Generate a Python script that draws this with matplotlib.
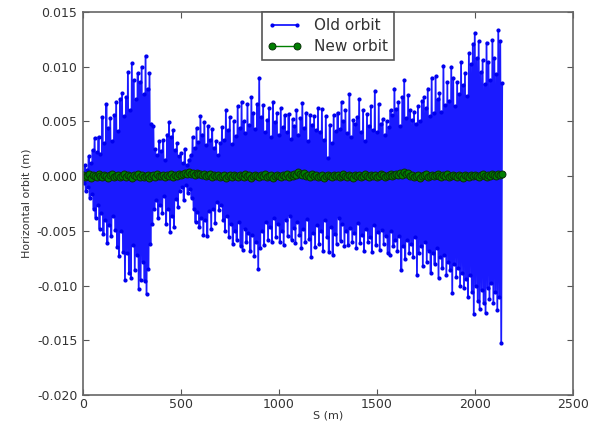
import matplotlib
matplotlib.use("Agg")
import matplotlib.pyplot as plt
import numpy as np

# old orbit, positive excursions (mm), one every 10 m starting at s = 0
old_up = [
    0.3, 1.0, 0.6, 1.8, 1.2, 2.4, 3.5, 2.2, 3.6, 2.0,
    5.4, 3.0, 6.6, 4.4, 5.3, 3.2, 5.6, 6.8, 4.1, 7.0,
    7.6, 5.5, 7.2, 9.5, 6.0, 10.3, 8.8, 7.0, 9.4, 8.6,
    10.0, 7.5, 11.0, 8.0, 9.4, 4.8, 4.6, 2.5, 1.9, 3.2,
    2.3, 3.3, 1.5, 3.8, 4.9, 3.6, 4.2, 2.4, 3.0, 1.8,
    2.1, 1.2, 2.5, 1.0, 1.5, 1.9, 3.6, 2.6, 4.4, 3.1,
    5.5, 3.8, 4.9, 2.8, 4.6, 3.3, 4.3, 2.6, 3.2, 1.9,
    3.0, 4.5, 3.3, 6.0, 4.2, 5.4, 2.9, 5.0, 3.7, 6.4,
    4.4, 6.8, 5.0, 3.9, 6.6, 4.7, 7.2, 5.8, 4.3, 6.6,
    9.0, 5.4, 6.5, 4.0, 5.1, 6.2, 3.6, 6.8, 4.9, 5.8,
    3.8, 6.2, 4.5, 5.6, 4.0, 5.7, 3.4, 5.2, 4.6, 6.0,
    3.8, 5.3, 6.7, 4.4, 5.8, 3.2, 5.6, 4.7, 5.5, 4.2,
    6.2, 4.0, 6.1, 3.3, 5.5, 1.7, 4.7, 3.0, 5.6, 4.1,
    5.8, 4.3, 6.8, 5.0, 6.0, 3.9, 7.5, 3.6, 5.1, 4.8,
    5.4, 7.0, 4.0, 6.0, 3.2, 5.7, 4.6, 6.4, 4.2, 7.8,
    4.0, 6.6, 4.8, 5.2, 3.8, 5.0, 4.5, 6.0, 5.6, 8.0,
    6.1, 6.8, 4.6, 7.2, 8.8, 5.3, 7.4, 6.0, 5.1, 5.9,
    4.8, 6.4, 5.0, 6.9, 7.2, 6.2, 8.0, 5.5, 9.0, 5.8,
    9.1, 7.0, 7.6, 5.9, 10.1, 6.5, 8.6, 6.9, 10.0, 9.0,
    6.4, 8.6, 7.5, 10.4, 8.3, 9.4, 7.3, 11.2, 10.2, 12.1,
    13.1, 10.8, 12.3, 9.5, 10.6, 8.4, 12.2, 10.4, 8.8, 12.4,
    10.8, 9.3, 13.3, 12.3, 8.5,
]

# old orbit, negative excursions (mm), one every 10 m starting at s = 5
old_down = [
    -0.6, -1.4, -1.0, -2.0, -1.6, -3.0, -3.8, -2.6, -4.8, -3.4,
    -5.3, -4.0, -6.1, -4.5, -5.5, -3.6, -4.9, -6.5, -7.3, -5.0,
    -6.9, -9.5, -7.0, -8.8, -9.3, -6.3, -8.6, -7.2, -10.3, -9.5,
    -7.8, -9.6, -10.8, -8.5, -6.2, -4.4, -3.0, -2.2, -3.8, -2.6,
    -3.4, -1.8, -4.4, -3.0, -5.1, -3.6, -4.6, -2.1, -2.8, -1.4,
    -1.0, -2.2, -0.8, -1.5, -1.2, -2.0, -3.0, -4.2, -3.3, -4.6,
    -3.8, -5.4, -4.0, -5.5, -3.2, -4.8, -3.0, -4.3, -2.4, -3.1,
    -2.6, -4.0, -5.0, -3.6, -5.6, -4.4, -6.2, -5.0, -5.8, -4.2,
    -6.4, -6.7, -4.8, -6.0, -5.2, -6.8, -5.4, -7.3, -6.0, -8.5,
    -6.6, -5.0, -6.3, -4.2, -5.8, -4.6, -6.0, -3.8, -5.6, -4.4,
    -6.0, -5.0, -6.3, -4.0, -5.5, -3.6, -5.8, -4.7, -6.1, -4.2,
    -5.4, -6.6, -4.8, -6.0, -3.9, -5.7, -7.4, -5.2, -6.5, -4.5,
    -6.2, -5.0, -6.8, -4.0, -5.6, -6.9, -4.6, -7.2, -5.3, -6.2,
    -3.8, -5.9, -4.4, -6.4, -5.0, -6.3, -4.7, -6.0, -5.2, -6.6,
    -4.3, -6.1, -5.4, -6.8, -4.8, -6.0, -5.6, -6.9, -4.5, -6.3,
    -5.1, -6.7, -4.9, -6.2, -5.5, -7.0, -7.2, -5.0, -6.4, -5.8,
    -6.8, -5.5, -8.6, -6.4, -7.6, -5.8, -7.0, -6.2, -7.4, -5.6,
    -9.0, -7.0, -6.4, -8.2, -6.0, -7.8, -6.8, -8.8, -7.0, -8.0,
    -6.6, -9.3, -7.4, -8.4, -7.2, -9.0, -7.8, -8.6, -10.7, -8.0,
    -9.2, -8.4, -10.0, -8.8, -10.2, -9.4, -11.0, -9.0, -10.6, -12.6,
    -10.0, -11.4, -12.1, -10.4, -11.6, -12.5, -10.2, -11.2, -9.8, -11.6,
    -10.6, -12.2, -11.0, -15.2,
]

# corrected orbit (mm), one every 10 m starting at s = 0
new_orbit = [
    0.1, -0.1, 0.0, 0.2, -0.2, 0.1, 0.0, -0.1, 0.2, 0.0,
    -0.1, 0.1, 0.0, -0.2, 0.1, 0.2, -0.1, 0.0, 0.1, -0.1,
    0.0, 0.2, -0.1, 0.1, 0.0, -0.2, 0.1, 0.0, 0.2, -0.1,
    0.1, -0.1, 0.0, 0.1, -0.2, 0.0, 0.1, -0.1, 0.2, 0.0,
    0.0, 0.1, -0.1, 0.1, 0.0, 0.2, -0.1, 0.1, 0.0, 0.2,
    0.1, 0.2, 0.3, 0.2, 0.4, 0.2, 0.3, 0.1, 0.3, 0.2,
    0.2, 0.1, 0.2, 0.0, 0.1, 0.2, -0.1, 0.1, 0.0, 0.1,
    -0.1, 0.0, 0.1, -0.2, 0.0, 0.1, -0.1, 0.1, 0.0, -0.1,
    0.1, 0.0, -0.1, 0.2, 0.0, 0.1, -0.2, 0.0, 0.1, 0.0,
    -0.1, 0.1, 0.0, 0.2, -0.1, 0.0, 0.1, -0.2, 0.0, 0.1,
    0.0, -0.1, 0.1, 0.0, 0.2, -0.1, 0.1, 0.0, 0.2, 0.1,
    0.4, 0.2, 0.1, 0.3, 0.0, 0.1, -0.1, 0.2, 0.0, 0.1,
    -0.1, 0.0, 0.1, -0.2, 0.0, 0.1, 0.0, -0.1, 0.1, 0.0,
    0.1, -0.1, 0.0, 0.2, 0.0, -0.1, 0.1, 0.0, -0.2, 0.1,
    0.0, 0.1, -0.1, 0.0, 0.2, 0.0, -0.1, 0.1, 0.0, 0.1,
    -0.1, 0.0, 0.2, 0.1, -0.1, 0.0, 0.1, 0.2, 0.0, 0.1,
    0.2, 0.1, 0.3, 0.1, 0.4, 0.2, 0.3, 0.0, 0.1, -0.1,
    0.0, 0.1, -0.2, 0.0, 0.1, 0.2, -0.1, 0.0, 0.1, 0.0,
    0.1, 0.2, 0.0, -0.1, 0.1, 0.0, 0.2, -0.1, 0.0, 0.1,
    0.0, -0.1, 0.1, 0.0, -0.2, 0.1, 0.0, -0.1, 0.1, 0.0,
    0.1, 0.0, -0.1, 0.1, 0.2, 0.0, -0.1, 0.1, 0.0, 0.2,
    0.1, 0.0, 0.2, 0.1, 0.2,
]

# BPM positions along the ring (m)
s_up = np.arange(len(old_up)) * 10.0
s_down = np.arange(len(old_down)) * 10.0 + 5.0
s_new = np.arange(len(new_orbit)) * 10.0

s_old = np.concatenate([s_up, s_down])
x_old = np.concatenate([old_up, old_down]) * 1e-3
order = np.argsort(s_old, kind="stable")
s_old, x_old = s_old[order], x_old[order]
x_new = np.array(new_orbit) * 1e-3

fig = plt.figure(figsize=(5.96, 4.24), dpi=100)
ax = fig.add_axes([0.139, 0.068, 0.822, 0.904])

ax.plot(s_old, x_old, ".-", color="#1a1aff", linewidth=1.3, markersize=4,
        markerfacecolor="#0000ee", markeredgecolor="#0000ee", label="Old orbit")
ax.plot(s_new, x_new, "o-", color="green", markerfacecolor="green",
        markeredgecolor="#0a300a", markeredgewidth=0.7, markersize=5,
        linewidth=1, label="New orbit")

ax.set_xlim(0, 2500)
ax.set_ylim(-0.020, 0.015)
ax.set_xticks(np.arange(0, 2501, 500))
ax.set_yticks(np.arange(-0.020, 0.0151, 0.005))
ax.yaxis.set_major_formatter(matplotlib.ticker.FormatStrFormatter("%.3f"))
ax.tick_params(direction="in", top=True, right=True, labelsize=9, length=4,
               color="#555555", labelcolor="#333333", pad=4)
ax.tick_params(axis="x", pad=2)
for sp in ax.spines.values():
    sp.set_color("#666666")
    sp.set_linewidth(1.2)

ax.set_xlabel("S (m)", fontsize=8, color="#333333", labelpad=0)
ax.set_ylabel("Horizontal orbit (m)", fontsize=8, color="#333333", labelpad=4)

leg = ax.legend(loc="upper center", bbox_to_anchor=(0.5, 1.0), borderaxespad=0,
                fontsize=11, numpoints=2, fancybox=False, framealpha=1,
                handlelength=2.2, borderpad=0.4, labelspacing=0.4)
leg.get_frame().set_edgecolor("#555555")
leg.get_frame().set_linewidth(1.2)
for t in leg.get_texts():
    t.set_color("#333333")

fig.savefig("out.png", dpi=100)
